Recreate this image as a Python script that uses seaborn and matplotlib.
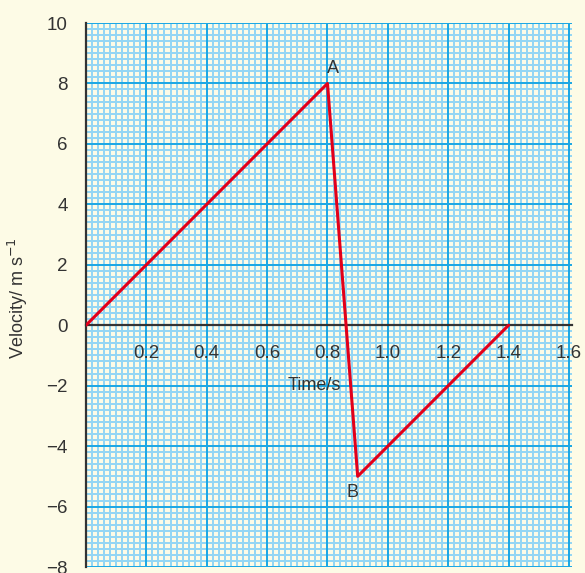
import matplotlib
matplotlib.use("Agg")
import matplotlib.pyplot as plt
import numpy as np
import pandas as pd
import seaborn as sns

# data
time_s = [0.0, 0.8, 0.9, 1.4]
velocity = [0.0, 8.0, -5.0, 0.0]
x_ticks = [0.2, 0.4, 0.6, 0.8, 1.0, 1.2, 1.4, 1.6]
x_tick_labels = ["0.2", "0.4", "0.6", "0.8", "1.0", "1.2", "1.4", "1.6"]
y_ticks = [-8, -6, -4, -2, 0, 2, 4, 6, 8, 10]
point_labels = ["A", "B"]

BG = "#fdfbe6"
MINOR = "#94d6f4"
MAJOR = "#1ea8e4"
INK = "#333333"
RED = "#e2001a"

sns.set_style("white")
plt.rcParams["font.family"] = ["Liberation Sans", "DejaVu Sans"]

df = pd.DataFrame({"time": time_s, "velocity": velocity})

fig = plt.figure(figsize=(5.85, 5.73), dpi=100, facecolor=BG)
ax = fig.add_axes([86 / 585, 1 - 567 / 573, (572 - 86) / 585, (567 - 23) / 573])
ax.set_facecolor(BG)

xmax = 1.61
ax.set_xlim(0, xmax)
ax.set_ylim(-8, 10)

# graph paper grid, drawn under the axis so tick labels sit on top
minor_x = np.arange(0, 81) * 0.02
minor_x = minor_x[minor_x <= xmax]
minor_y = -8 + np.arange(0, 91) * 0.2
ax.vlines(minor_x, -8, 10, color=MINOR, linewidth=1.44, antialiased=False, zorder=0.3)
ax.hlines(minor_y, 0, xmax, color=MINOR, linewidth=1.44, antialiased=False, zorder=0.3)
ax.vlines(np.arange(0, 9) * 0.2, -8, 10, color=MAJOR, linewidth=1.44, antialiased=False, zorder=0.4)
ax.hlines(np.arange(-8, 11, 2), 0, xmax, color=MAJOR, linewidth=1.44, antialiased=False, zorder=0.4)

sns.lineplot(data=df, x="time", y="velocity", ax=ax, color=RED, linewidth=2.2,
             sort=False, zorder=5)

for sp in ["top", "right"]:
    ax.spines[sp].set_visible(False)
ax.spines["bottom"].set_position(("data", 0))
for sp in ["bottom", "left"]:
    ax.spines[sp].set_color(INK)
    ax.spines[sp].set_linewidth(1.6)
    ax.spines[sp].set_zorder(4)

ax.set_xticks(x_ticks)
ax.set_xticklabels(x_tick_labels)
ax.set_yticks(y_ticks)
ax.tick_params(axis="x", which="major", direction="out", length=8, width=1.6,
               color=INK, labelcolor=INK, labelsize=13.5, pad=6)
ax.tick_params(axis="y", which="major", direction="out", length=9, width=1.6,
               color=INK, labelcolor=INK, labelsize=13.5, pad=4)

ax.set_xlabel("")
ax.set_ylabel("")
ax.text(0.755, -2.0, "Time/s", ha="center", va="center", color=INK, fontsize=13)
fig.text(18 / 585, 1 - 298 / 573, "Velocity/ m s$^{-1}$", rotation=90,
         ha="center", va="center", color=INK, fontsize=13)

ax.text(0.818, 8.5, point_labels[0], ha="center", va="center", color=INK, fontsize=13)
ax.text(0.884, -5.55, point_labels[1], ha="center", va="center", color=INK, fontsize=13)

fig.savefig("out.png", dpi=100, facecolor=BG)
